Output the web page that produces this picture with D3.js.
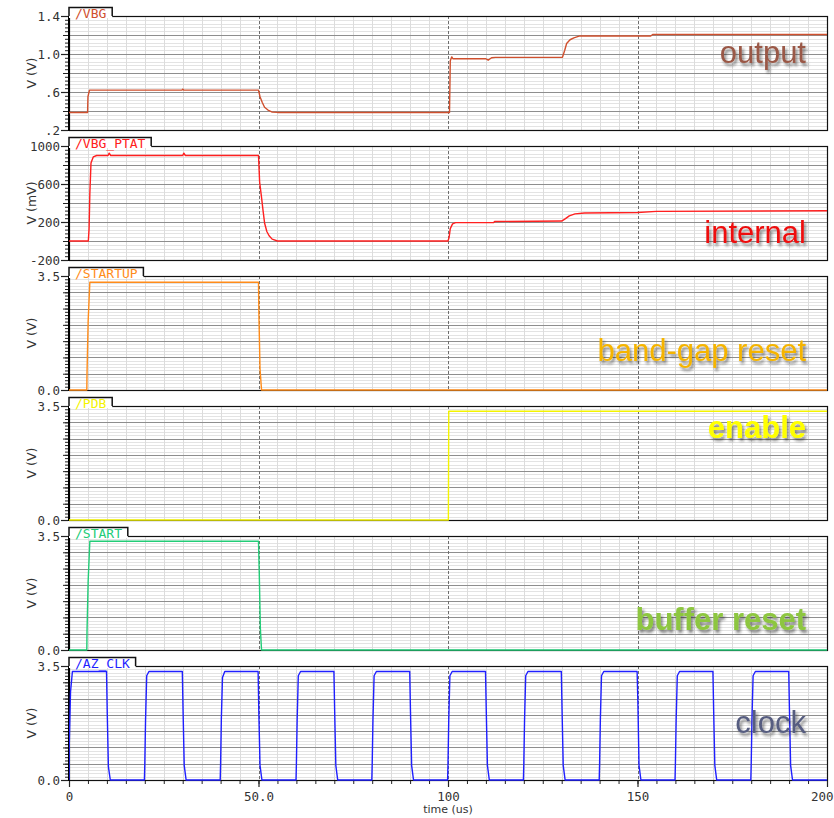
<!DOCTYPE html>
<html><head><meta charset="utf-8">
<script src="https://cdn.jsdelivr.net/npm/d3@7"></script>
<style>body{margin:0;background:#fff;} svg{display:block;}</style>
</head><body><svg id="c" width="834" height="818"></svg>
<script>
// ---------- DATA ----------
const signalNames = ["/VBG", "/VBG_PTAT", "/STARTUP", "/PDB", "/START", "/AZ_CLK"];
const panelLabels = ["output", "internal", "band-gap reset", "enable", "buffer reset", "clock"];
const yTitles = ["V (V)", "V (mV)", "V (V)", "V (V)", "V (V)", "V (V)"];
const yDomains = [[0.2, 1.4], [-200, 1000], [0, 3.5], [0, 3.5], [0, 3.5], [0, 3.5]];
const yTickValues = [[1.4, 1.0, 0.6, 0.2], [1000, 600, 200, -200], [3.5, 0], [3.5, 0], [3.5, 0], [3.5, 0]];
const yTickLabels = [["1.4", "1.0", ".6", ".2"], ["1000", "600", "200", "-200"], ["3.5", "0.0"], ["3.5", "0.0"], ["3.5", "0.0"], ["3.5", "0.0"]];
const yMajorStep = [0.2, 200, 0.5, 0.5, 0.5, 0.5];
const yMinorStep = [0.04, 40, 0.1, 0.1, 0.1, 0.1];
const xTickValues = [0, 50, 100, 150, 200];
const xTickLabels = ["0", "50.0", "100", "150", "200"];
const xTitle = "time (us)";

// time (us), value
const vbg = [[0,0.385],[4.9,0.385],[5.0,0.55],[5.4,0.62],[29.8,0.62],[30.0,0.63],[30.3,0.62],[50.0,0.62],[50.4,0.55],[51.0,0.49],[51.6,0.44],[52.5,0.41],[53.5,0.39],[55,0.385],[100.4,0.385],[100.6,0.93],[101.0,0.97],[101.3,0.95],[110.0,0.95],[110.6,0.935],[111.5,0.96],[112.5,0.965],[130.2,0.965],[130.8,1.04],[131.3,1.11],[132.2,1.15],[133.2,1.17],[134.8,1.19],[153.5,1.19],[154,1.205],[200,1.205]];
const vbgPtat = [[0,0],[5.1,0],[5.3,130],[5.5,500],[5.8,820],[6.4,885],[7.3,900],[10.3,900],[10.6,925],[11.0,900],[30.0,900],[30.3,925],[30.7,900],[50.0,900],[50.3,620],[50.8,460],[51.2,320],[51.6,190],[52.2,100],[52.8,55],[53.6,20],[55,0],[100,0],[100.3,40],[100.6,130],[101.2,180],[102,193],[112,193],[112.3,205],[130,210],[131,235],[132,265],[133.5,285],[136,295],[150,300],[155,312],[200,318]];
const startup = [[0,0],[4.7,0],[4.75,0.5],[5.05,2.1],[5.5,3.31],[50.0,3.31],[50.1,2.35],[50.4,0.65],[50.8,0],[200,0]];
const pdb = [[0,0],[100.1,0],[100.2,3.34],[200,3.34]];
const start = [[0,0],[4.7,0],[4.75,0.55],[5.05,2.1],[5.5,3.34],[50.0,3.34],[50.2,2.36],[50.5,0.64],[50.8,0],[200,0]];
const azClk = [
[0,0],[0.05,1.0],[0.4,2.7],[0.9,3.33],
[9.9,3.33],[10.1,2.0],[10.4,0.4],[10.9,0],
[19.9,0],[20.0,0.5],[20.2,1.85],[20.5,3.2],[21.1,3.33],
[29.9,3.33],[30.1,2.1],[30.4,0.45],[30.9,0],
[39.9,0],[40.0,0.5],[40.2,1.9],[40.5,3.15],[41.1,3.33],
[49.9,3.33],[50.1,2.0],[50.4,0.45],[50.9,0],
[59.9,0],[60.0,0.5],[60.2,1.85],[60.5,3.2],[61.1,3.33],
[69.9,3.33],[70.1,2.1],[70.4,0.45],[70.9,0],
[79.9,0],[80.0,0.5],[80.2,1.85],[80.5,3.2],[81.1,3.33],
[89.9,3.33],[90.1,2.1],[90.4,0.45],[90.9,0],
[99.9,0],[100.0,0.5],[100.2,1.85],[100.5,3.2],[101.1,3.33],
[109.9,3.33],[110.1,2.1],[110.4,0.45],[110.9,0],
[119.9,0],[120.0,0.5],[120.2,1.85],[120.5,3.2],[121.1,3.33],
[129.9,3.33],[130.1,2.1],[130.4,0.45],[130.9,0],
[139.9,0],[140.0,0.5],[140.2,1.85],[140.5,3.2],[141.1,3.33],
[149.9,3.33],[150.1,2.4],[150.4,0.45],[150.9,0],
[159.9,0],[160.0,0.5],[160.2,1.85],[160.5,3.2],[161.1,3.33],
[169.9,3.33],[170.1,2.1],[170.4,0.45],[170.9,0],
[179.9,0],[180.0,0.5],[180.2,1.85],[180.5,3.2],[181.1,3.33],
[189.9,3.33],[190.1,2.1],[190.4,0.45],[190.9,0],
[200,0]];
const seriesData = [vbg, vbgPtat, startup, pdb, start, azClk];

// ---------- STYLE ----------
const traceColors = ["#d0502e", "#ff2020", "#ff8c1a", "#f4f400", "#22cc77", "#1f1fff"];
const labelColors = ["#9a5846", "#ee1111", "#f5b400", "#ffff00", "#8dc63f", "#575d80"];
const labelWeights = ["normal", "normal", "normal", "bold", "bold", "normal"];
const labelBaselines = [47, 97, 85, 32, 94, 67];

const W = 834, H = 818;
const X0 = 69, X1 = 827;
const TOP0 = 16, STEP = 130, PH = 114;
const monoFont = "'DejaVu Sans Mono', 'Liberation Mono', monospace";

const svg = d3.select("#c");
svg.append("rect").attr("width", W).attr("height", H).attr("fill", "#fff");
const defs = svg.append("defs");
const f = defs.append("filter").attr("id", "sh").attr("x", "-10%").attr("y", "-40%").attr("width", "130%").attr("height", "190%");
f.append("feDropShadow").attr("dx", 2).attr("dy", 3).attr("stdDeviation", 1.6)
  .attr("flood-color", "#222").attr("flood-opacity", 0.55);

const x = d3.scaleLinear().domain([0, 200]).range([X0, X1]);
const xMinorGrid = d3.range(1, 40).map(k => k * 5).filter(v => v % 50 !== 0);
const xDashed = [50, 100, 150];

seriesData.forEach((data, i) => {
  const top = TOP0 + i * STEP, bot = top + PH;
  const [lo, hi] = yDomains[i];
  const y = d3.scaleLinear().domain([lo, hi]).range([bot, top]);
  const g = svg.append("g");

  defs.append("clipPath").attr("id", "clip" + i)
    .append("rect").attr("x", X0).attr("y", top - 1).attr("width", X1 - X0 + 1).attr("height", PH + 2);

  const nMinor = Math.round((hi - lo) / yMinorStep[i]);
  const minorVals = d3.range(1, nMinor).map(k => lo + k * yMinorStep[i]);
  const nMajor = Math.round((hi - lo) / yMajorStep[i]);
  const majorVals = d3.range(1, nMajor).map(k => lo + k * yMajorStep[i]);

  g.selectAll(".hmin").data(minorVals).enter().append("line")
    .attr("x1", X0).attr("x2", X1).attr("y1", d => Math.round(y(d)) + 0.5).attr("y2", d => Math.round(y(d)) + 0.5)
    .attr("stroke", "#e3e3e3").attr("stroke-width", 1);
  g.selectAll(".vmin").data(xMinorGrid).enter().append("line")
    .attr("y1", top).attr("y2", bot).attr("x1", d => Math.round(x(d)) + 0.5).attr("x2", d => Math.round(x(d)) + 0.5)
    .attr("stroke", "#dcdcdc").attr("stroke-width", 1);
  g.selectAll(".hmaj").data(majorVals).enter().append("line")
    .attr("x1", X0).attr("x2", X1).attr("y1", d => Math.round(y(d)) + 0.5).attr("y2", d => Math.round(y(d)) + 0.5)
    .attr("stroke", "#8e8e8e").attr("stroke-width", 1.2);
  g.selectAll(".vmaj").data(xDashed).enter().append("line")
    .attr("y1", top).attr("y2", bot).attr("x1", d => Math.round(x(d)) + 0.5).attr("x2", d => Math.round(x(d)) + 0.5)
    .attr("stroke", "#6e6e6e").attr("stroke-width", 1).attr("stroke-dasharray", "3,2");

  g.append("rect").attr("x", X0 + 0.5).attr("y", top + 0.5).attr("width", X1 - X0).attr("height", PH)
    .attr("fill", "none").attr("stroke", "#111").attr("stroke-width", 1.2);
  g.append("line").attr("x1", X0).attr("x2", X0).attr("y1", top).attr("y2", bot + 1)
    .attr("stroke", "#000").attr("stroke-width", 2);

  const line = d3.line().x(d => x(d[0])).y(d => y(d[1]));
  g.append("path").datum(data).attr("d", line).attr("fill", "none")
    .attr("stroke", traceColors[i]).attr("stroke-width", 1.4).attr("stroke-linejoin", "round")
    .attr("clip-path", "url(#clip" + i + ")");

  const axG = g.append("g").attr("transform", `translate(${X0 - 1},0)`);
  axG.append("g").call(d3.axisLeft(y).tickValues(minorVals).tickSize(3).tickFormat(""))
    .call(s => s.select(".domain").remove()).selectAll("line").attr("stroke", "#222");
  axG.append("g").call(d3.axisLeft(y).tickValues(majorVals).tickSize(5).tickFormat(""))
    .call(s => s.select(".domain").remove()).selectAll("line").attr("stroke", "#222");
  const lab = axG.append("g").call(d3.axisLeft(y).tickValues(yTickValues[i]).tickSize(7)
    .tickFormat((d, k) => yTickLabels[i][k]).tickPadding(1));
  lab.select(".domain").remove();
  lab.selectAll("line").attr("stroke", "#222").attr("stroke-width", 1.2);
  lab.selectAll("text").attr("font-family", monoFont).attr("font-size", 12.5).attr("fill", "#333");

  g.append("text").attr("transform", `translate(36,${(top + bot) / 2}) rotate(-90)`)
    .attr("text-anchor", "middle").attr("font-family", "'DejaVu Sans', sans-serif").attr("font-size", 12.5)
    .attr("fill", "#333").text(yTitles[i]);

  const tabW = signalNames[i].length * 7.8 + 12;
  g.append("rect").attr("x", X0).attr("y", top - 9).attr("width", tabW).attr("height", 11).attr("fill", "#fff");
  g.append("path").attr("d", `M${X0},${top} V${top - 8.5} H${X0 + tabW} V${top}`)
    .attr("fill", "none").attr("stroke", "#111").attr("stroke-width", 1.5);
  g.append("text").attr("x", X0 + 6).attr("y", top + 1.5).attr("font-family", monoFont).attr("font-size", 13)
    .attr("fill", traceColors[i]).text(signalNames[i]);

  g.append("text").attr("x", 806).attr("y", top + labelBaselines[i]).attr("text-anchor", "end")
    .attr("font-family", "'Liberation Sans', Arial, sans-serif").attr("font-size", 31)
    .attr("font-weight", labelWeights[i]).attr("fill", labelColors[i]).attr("filter", "url(#sh)")
    .text(panelLabels[i]);

  if (i === seriesData.length - 1) {
    const xg = svg.append("g").attr("transform", `translate(0,${bot + 1})`);
    xg.append("g").call(d3.axisBottom(x).tickValues(d3.range(0, 41).map(k => k * 5)).tickSize(3).tickFormat(""))
      .call(s => s.select(".domain").remove()).selectAll("line").attr("stroke", "#222");
    const xl = xg.append("g").call(d3.axisBottom(x).tickValues(xTickValues).tickSize(6)
      .tickFormat((d, k) => xTickLabels[k]).tickPadding(5));
    xl.select(".domain").remove();
    xl.selectAll("line").attr("stroke", "#222").attr("stroke-width", 1.2);
    xl.selectAll("text").attr("font-family", monoFont).attr("font-size", 12.5).attr("fill", "#333");
    // keep last label inside the window
    xl.selectAll("text").filter(d => d === 200).attr("text-anchor", "end").attr("dx", 6);
    svg.append("text").attr("x", (X0 + X1) / 2).attr("y", 813).attr("text-anchor", "middle")
      .attr("font-family", "'DejaVu Sans', sans-serif").attr("font-size", 11).attr("fill", "#333").text(xTitle);
  }
});
</script></body></html>
